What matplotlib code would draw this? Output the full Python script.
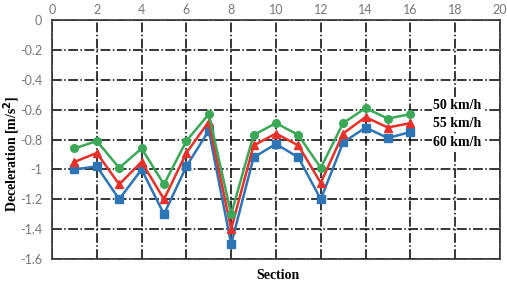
import matplotlib.pyplot as plt
import numpy as np

sections = np.arange(1, 17)
v50 = [-0.86, -0.81, -0.99, -0.86, -1.10, -0.81, -0.63, -1.30,
       -0.77, -0.69, -0.77, -0.99, -0.69, -0.59, -0.66, -0.63]
v55 = [-0.95, -0.89, -1.10, -0.95, -1.20, -0.89, -0.68, -1.40,
       -0.84, -0.76, -0.84, -1.09, -0.76, -0.65, -0.72, -0.69]
v60 = [-1.00, -0.98, -1.20, -1.00, -1.30, -0.98, -0.74, -1.50,
       -0.92, -0.83, -0.92, -1.20, -0.82, -0.72, -0.79, -0.75]

serif = ['Liberation Serif', 'DejaVu Serif']
tickc = '#777777'

fig = plt.figure(figsize=(5.07, 2.84), dpi=100)
ax = fig.add_axes([0.1026, 0.088, 0.8834, 0.8416])

ax.plot(sections, v60, '-s', color='#2e75b6', lw=1.8, ms=5.5, zorder=3)
ax.plot(sections, v55, '-^', color='#e8302a', lw=1.8, ms=5.5, zorder=4)
ax.plot(sections, v50, '-o', color='#3aa857', lw=1.8, ms=5.5, zorder=5)

ax.set_xlim(0, 20)
ax.set_ylim(-1.6, 0)
ax.set_xticks(np.arange(0, 21, 2))
ax.set_yticks(np.arange(-1.6, 0.01, 0.2))
ax.set_yticklabels(['-1.6', '-1.4', '-1.2', '-1', '-0.8', '-0.6', '-0.4', '-0.2', '0'])
ax.xaxis.tick_top()
ax.tick_params(length=0, labelsize=9, labelcolor=tickc)
ax.tick_params(axis='x', pad=3)
ax.tick_params(axis='y', pad=7)
for t in ax.get_xticklabels() + ax.get_yticklabels():
    t.set_family(['Lato', 'DejaVu Sans'])
ax.grid(True, color='black', ls='-.', lw=1.1)
for s in ax.spines.values():
    s.set_color('#333333')
    s.set_linewidth(1.2)

for lab, y in [('50 km/h', -0.57), ('55 km/h', -0.69), ('60 km/h', -0.82)]:
    ax.text(18.1, y, lab, family=serif, fontweight='bold', fontsize=10,
            ha='center', va='center', zorder=6,
            bbox=dict(facecolor='white', edgecolor='none', pad=1))

fig.text(12 / 507, 0.46, 'Deceleration [m/s$^\\mathbf{2}$]', family=serif,
         fontweight='bold', fontsize=10, rotation=90, ha='center', va='center')
fig.text(0.548, 0.03, 'Section', family=serif, fontweight='bold', fontsize=10,
         ha='center', va='center')

fig.savefig('out.png', dpi=100)
